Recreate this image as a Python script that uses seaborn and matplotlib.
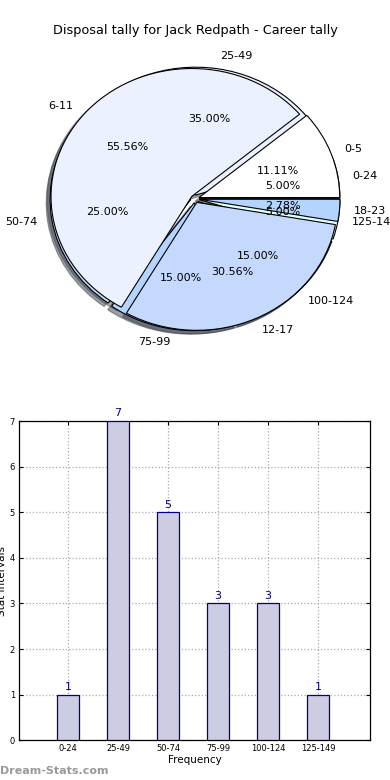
import matplotlib
matplotlib.use("Agg")
import matplotlib.pyplot as plt
import seaborn as sns
import pandas as pd
import numpy as np

title = "Disposal tally for Jack Redpath - Career tally"

# Pie 1 (inner groups) - counts giving 11.11%, 55.56%, 30.56%, 2.78%
pie1_labels = ["0-5", "6-11", "12-17", "18-23"]
pie1_values = [4, 20, 11, 1]
pie1_colors = ["#FFFFFF", "#EBF1FF", "#C5D9FF", "#B3D4FF"]

# Pie 2 (career intervals) - counts giving 5%, 35%, 25%, 15%, 15%, 5%
pie2_labels = ["0-24", "25-49", "50-74", "75-99", "100-124", "125-149"]
pie2_values = [1, 7, 5, 3, 3, 1]
pie2_colors = ["#FFFFFF", "#EBF1FF", "#C0D8FF", "#B3D4FF", "#C5D9FF", "#E0FFFF"]

# Bar chart
bar_categories = ["0-24", "25-49", "50-74", "75-99", "100-124", "125-149"]
bar_counts = [1, 7, 5, 3, 3, 1]

sns.set_style("white")
plt.rcParams['font.family'] = ['DejaVu Sans']
plt.rcParams['text.color'] = 'black'
plt.rcParams['axes.labelcolor'] = 'black'
plt.rcParams['xtick.color'] = 'black'
plt.rcParams['ytick.color'] = 'black'

fig = plt.figure(figsize=(3.9, 7.8), dpi=100)

# --- Pie axes ---
axp = fig.add_axes([0.02, 0.540, 0.96, 0.41])
wp = dict(edgecolor="black", linewidth=0.8)
axp.pie(pie2_values, labels=pie2_labels, colors=pie2_colors, explode=[0.03] * 6,
        autopct="%1.2f%%", shadow=True, startangle=0, wedgeprops=wp,
        textprops=dict(fontsize=8, color="black"))
axp.pie(pie1_values, labels=pie1_labels, colors=pie1_colors, explode=[0.03] * 4,
        autopct="%1.2f%%", shadow=True, startangle=0, wedgeprops=wp,
        textprops=dict(fontsize=8, color="black"))
axp.set_aspect("auto")
axp.set_xlim(-1.33, 1.33)
axp.set_ylim(-1.25, 1.25)
axp.axis("off")
fig.text(0.5, 0.961, title, ha="center", va="center", fontsize=9.3, color="black")

# --- Bar axes ---
axb = fig.add_axes([0.049, 0.051, 0.9, 0.409])
df = pd.DataFrame({"cat": bar_categories, "count": bar_counts})
sns.barplot(data=df, x="cat", y="count", ax=axb, color="#CCCCE3", saturation=1,
            edgecolor="#00008B", linewidth=0.9, width=0.45, zorder=3)
for i, v in enumerate(bar_counts):
    axb.text(i, v + 0.06, str(v), ha="center", va="bottom", color="#00008B", fontsize=8)
axb.set_xlim(-0.98, 6.04)
axb.set_ylim(0, 7)
axb.set_yticks(range(8))
axb.grid(True, linestyle=":", color="#AAAAAA", linewidth=0.9, zorder=0)
axb.set_axisbelow(True)
for s in axb.spines.values():
    s.set_visible(True)
    s.set_color("black")
    s.set_linewidth(0.9)
axb.tick_params(axis="both", labelsize=6, length=3, direction="in", color="black",
                bottom=True, left=True, top=True, right=True, pad=3)
axb.set_xlabel("Frequency", fontsize=7.5, labelpad=1)
axb.set_ylabel("Stat Intervals", fontsize=7.5, labelpad=2)

fig.text(0.0, 0.012, "Dream-Stats.com", color="#999999", fontsize=8, fontweight="bold",
         ha="left", va="center")

fig.savefig("out.png", dpi=100)
